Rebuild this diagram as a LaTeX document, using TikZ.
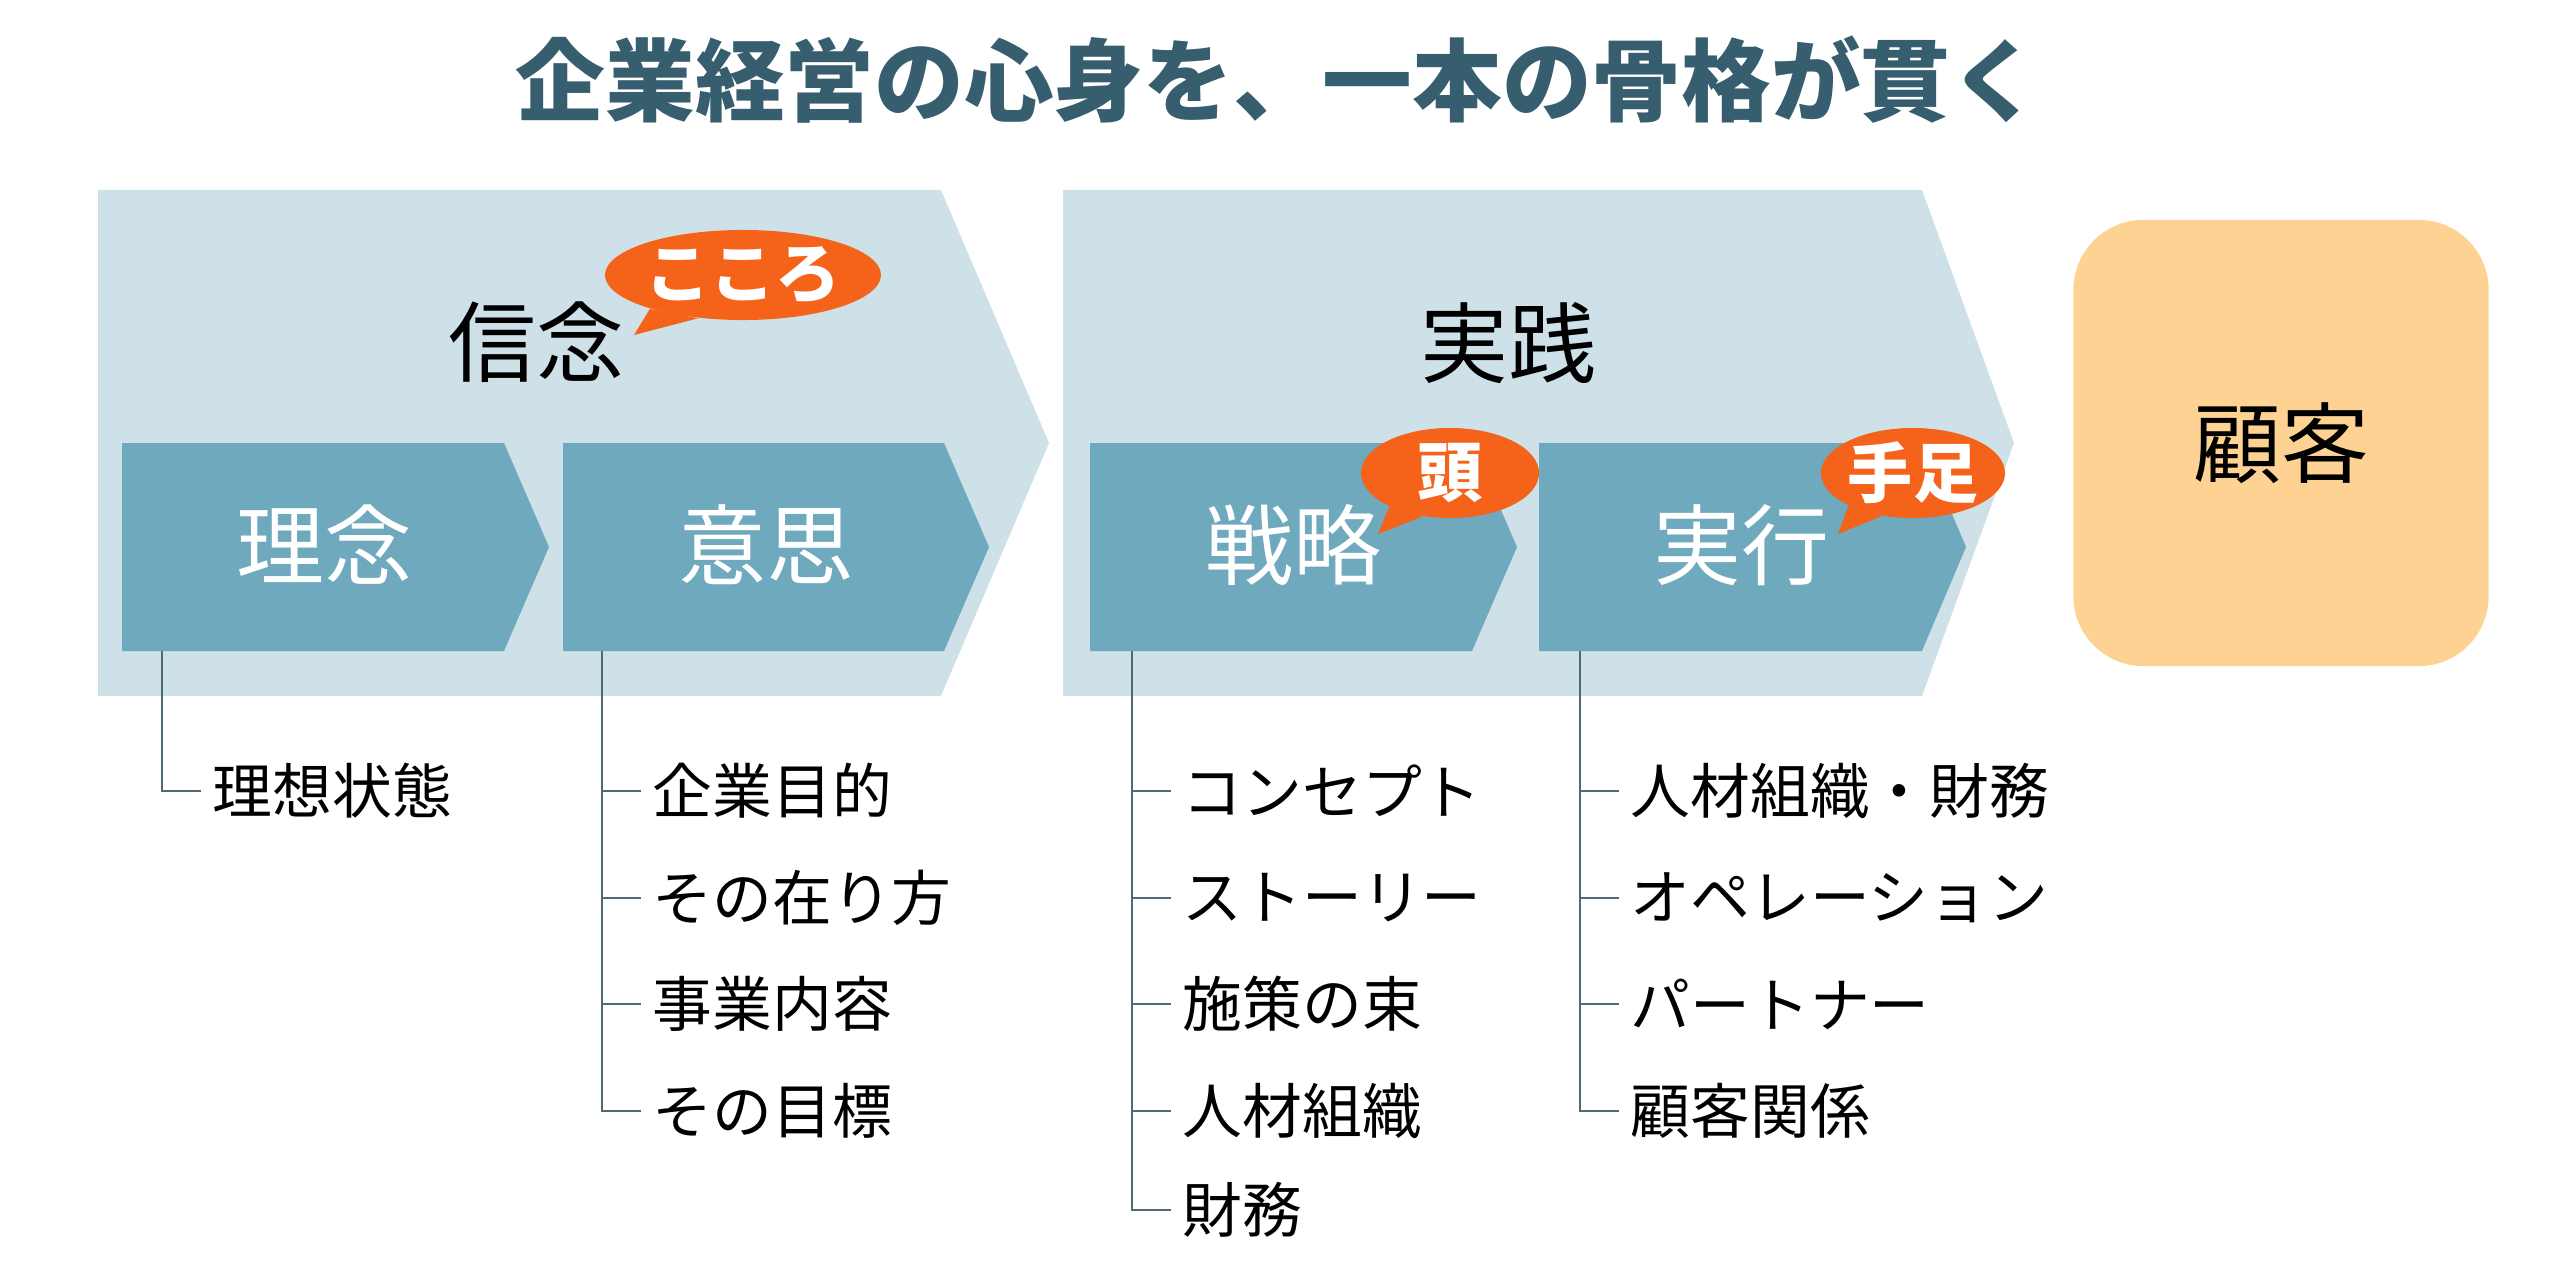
\documentclass[tikz,border=0pt]{standalone}
\usepackage{fontspec}
\setmainfont{Noto Sans CJK JP}
\usepackage{tikz}
\usetikzlibrary{positioning, shapes, calc}
\definecolor{PaleBlue}{RGB}{207,225,232}
\definecolor{MidBlue}{RGB}{111,169,190}
\definecolor{CallOrange}{RGB}{245,98,26}
\definecolor{Peach}{RGB}{253,210,146}
\definecolor{TitleTeal}{RGB}{55,94,110}
\definecolor{BranchGray}{RGB}{80,105,115}

\begin{document}
\begin{tikzpicture}[x=0.01cm, y=-0.01cm,
    outerarrow/.style={fill=PaleBlue},
    innerarrow/.style={fill=MidBlue},
    headlabel/.style={font=\fontsize{25}{30}\selectfont},
    steplabel/.style={text=white, font=\fontsize{25}{30}\selectfont},
    bubble/.style={ellipse, fill=CallOrange, text=white, inner sep=0pt, font=\bfseries\fontsize{18.5}{22}\selectfont},
    listitem/.style={anchor=west, inner sep=0pt, font=\fontsize{17}{20}\selectfont},
    branch/.style={draw=BranchGray, line width=0.6pt, shorten >=0.11cm}]
            \useasboundingbox (0,0) rectangle (2560,1285);
            % Title
            \node[text=TitleTeal, font=\bfseries\fontsize{25.5}{30}\selectfont] (title) at (1278,80) {企業経営の心身を、一本の骨格が貫く};

            % Belief
            \fill[outerarrow] (98,190) -- (941,190) -- (1049,443) -- (941,696) -- (98,696) -- cycle;
            \node[headlabel] (shinnen) at (536,342) {信念};
            \fill[innerarrow] (122,443) -- (504,443) -- (549,547) -- (504,651) -- (122,651) -- cycle;
            \node[steplabel] (rinen) at (324,545) {理念};
            \fill[innerarrow] (563,443) -- (944,443) -- (989,547) -- (944,651) -- (563,651) -- cycle;
            \node[steplabel] (ishi) at (766,545) {意思};

            % Practice
            \fill[outerarrow] (1063,190) -- (1922,190) -- (2014,443) -- (1922,696) -- (1063,696) -- cycle;
            \node[headlabel] (jissen) at (1508,343) {実践};
            \fill[innerarrow] (1090,443) -- (1472,443) -- (1517,547) -- (1472,651) -- (1090,651) -- cycle;
            \node[steplabel] (senryaku) at (1293,545) {戦略};
            \fill[innerarrow] (1539,443) -- (1922,443) -- (1966,547) -- (1922,651) -- (1539,651) -- cycle;
            \node[steplabel] (jikkou) at (1741,545) {実行};

            % Customer
            \node[fill=Peach, rounded corners=0.7cm, minimum width=4.15cm, minimum height=4.46cm, font=\fontsize{25}{30}\selectfont] (kokyaku) at (2281,443) {顧客};

            % Callouts
            \node[bubble, minimum width=2.72cm, minimum height=0.9cm] (kokoro) at (743,275) {こころ};
            \coordinate (kokoro-tip) at (634,335);
            \fill[CallOrange] (kokoro.200) -- (kokoro-tip) -- (kokoro.224) -- cycle;
            \node[bubble, minimum width=1.78cm, minimum height=0.9cm] (atama) at (1450,473) {頭};
            \coordinate (atama-tip) at (1378,534);
            \fill[CallOrange] (atama.209) -- (atama-tip) -- (atama.238) -- cycle;
            \node[bubble, minimum width=1.84cm, minimum height=0.9cm] (teashi) at (1913,473) {手足};
            \coordinate (teashi-tip) at (1838,534);
            \fill[CallOrange] (teashi.207) -- (teashi-tip) -- (teashi.234) -- cycle;

            % Branches under rinen
            \coordinate (rinen-foot) at (162,651);
            \node[listitem] (risou) at (212,791) {理想状態};
            \draw[branch] (rinen-foot) |- (risou.west);

            % Branches under ishi
            \coordinate (ishi-foot) at (602,651);
            \node[listitem] (mokuteki) at (652,791) {企業目的};
            \node[listitem] (arikata) at (652,898) {その在り方};
            \node[listitem] (jigyou) at (652,1004) {事業内容};
            \node[listitem] (mokuhyou) at (652,1111) {その目標};
            \draw[branch] (ishi-foot) |- (mokuhyou.west);
            \draw[branch] (ishi-foot |- mokuteki.west) -- (mokuteki.west);
            \draw[branch] (ishi-foot |- arikata.west) -- (arikata.west);
            \draw[branch] (ishi-foot |- jigyou.west) -- (jigyou.west);

            % Branches under senryaku
            \coordinate (senryaku-foot) at (1132,651);
            \node[listitem] (concept) at (1182,791) {コンセプト};
            \node[listitem] (story) at (1182,898) {ストーリー};
            \node[listitem] (shisaku) at (1182,1004) {施策の束};
            \node[listitem] (soshiki) at (1182,1111) {人材組織};
            \node[listitem] (zaimu) at (1182,1210) {財務};
            \draw[branch] (senryaku-foot) |- (zaimu.west);
            \draw[branch] (senryaku-foot |- concept.west) -- (concept.west);
            \draw[branch] (senryaku-foot |- story.west) -- (story.west);
            \draw[branch] (senryaku-foot |- shisaku.west) -- (shisaku.west);
            \draw[branch] (senryaku-foot |- soshiki.west) -- (soshiki.west);

            % Branches under jikkou
            \coordinate (jikkou-foot) at (1580,651);
            \node[listitem] (soshikizaimu) at (1630,791) {人材組織・財務};
            \node[listitem] (operation) at (1630,898) {オペレーション};
            \node[listitem] (partner) at (1630,1004) {パートナー};
            \node[listitem] (kankei) at (1630,1111) {顧客関係};
            \draw[branch] (jikkou-foot) |- (kankei.west);
            \draw[branch] (jikkou-foot |- soshikizaimu.west) -- (soshikizaimu.west);
            \draw[branch] (jikkou-foot |- operation.west) -- (operation.west);
            \draw[branch] (jikkou-foot |- partner.west) -- (partner.west);
        \end{tikzpicture}
\end{document}
